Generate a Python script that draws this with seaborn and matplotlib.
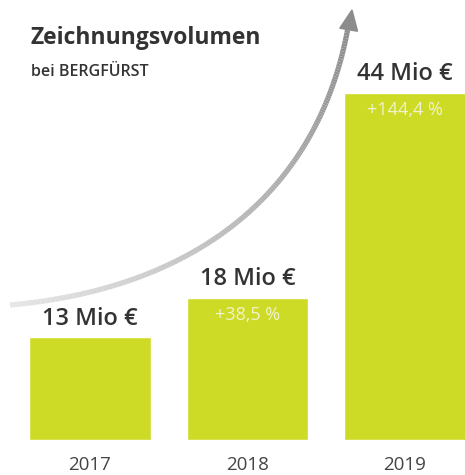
import numpy as np
import pandas as pd
import seaborn as sns
import matplotlib.pyplot as plt
from matplotlib.collections import LineCollection
from matplotlib.patches import Polygon

years = ["2017", "2018", "2019"]
volume = [13, 18, 44]
value_labels = ["13 Mio €", "18 Mio €", "44 Mio €"]
growth_labels = ["", "+38,5 %", "+144,4 %"]

sns.set_style("white")
plt.rcParams["font.family"] = ["Open Sans", "DejaVu Sans"]

W, H = 465, 475
fig = plt.figure(figsize=(W / 100, H / 100), dpi=100)
ax = fig.add_axes([0, 35 / H, 1, 1 - 35 / H])

df = pd.DataFrame({"year": years, "volume": volume})
sns.barplot(data=df, x="year", y="volume", color="#cedb26", saturation=1,
            width=0.77, ax=ax)

ax.set_xlim(-0.571, 2.381)
ax.set_ylim(0, 55.8)
ax.set_xlabel("")
ax.set_ylabel("")
ax.set_yticks([])
ax.set_xticks([])
sns.despine(ax=ax, left=True, bottom=True)

# value labels and growth labels
for i, v in enumerate(volume):
    ax.annotate(value_labels[i], (i, v), xytext=(0, 5), textcoords="offset points",
                ha="center", va="bottom", fontsize=17, fontweight="semibold",
                color="#333333")
    if growth_labels[i]:
        ax.annotate(growth_labels[i], (i, v), xytext=(0, -6), textcoords="offset points",
                    ha="center", va="top", fontsize=13, color="#f0f3cc")

# year labels below
for i, y in enumerate(years):
    ax.annotate(y, (i, 0), xytext=(0, -18), textcoords="offset points",
                ha="center", va="center", fontsize=13.5, color="#444444",
                annotation_clip=False)

# title
fig.text(30 / W, 1 - 38 / H, "Zeichnungsvolumen", fontsize=16.5, fontweight="bold",
         color="#333333", va="center", ha="left")
fig.text(31 / W, 1 - 72 / H, "bei BERGFÜRST", fontsize=11.5, fontweight="semibold",
         color="#333333", va="center", ha="left")

# curved gradient arrow (decoration, pixel coords of the reference)
p0, p1, p2, p3 = map(np.array, [(10, 305), (180, 290), (318, 205), (349, 22)])
t = np.linspace(0, 1, 200)[:, None]
pts = ((1 - t) ** 3) * p0 + 3 * ((1 - t) ** 2) * t * p1 + 3 * (1 - t) * t ** 2 * p2 + t ** 3 * p3
fx = pts[:, 0] / W
fy = 1 - pts[:, 1] / H
segs = np.stack([np.column_stack([fx[:-1], fy[:-1]]), np.column_stack([fx[1:], fy[1:]])], axis=1)
shades = np.linspace(0.9, 0.55, len(segs))
lc = LineCollection(segs, colors=[(s, s, s) for s in shades], linewidths=3.8,
                    transform=fig.transFigure, capstyle="butt")
fig.add_artist(lc)

# arrow head
tip = np.array([352, 10.0])
d = p3 - p2
d = d / np.linalg.norm(d)
n = np.array([-d[1], d[0]])
base = tip - d * 20
head = [tip, base + n * 9, base - n * 9]
head = [(x / W, 1 - y / H) for x, y in head]
fig.add_artist(Polygon(head, closed=True, color=(0.55, 0.55, 0.55),
                       transform=fig.transFigure))

fig.savefig("out.png", dpi=100)
